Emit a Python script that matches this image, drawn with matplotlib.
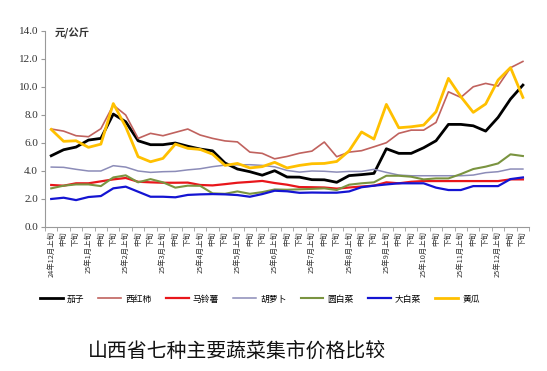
import matplotlib.pyplot as plt
import numpy as np

plt.rcParams['font.family'] = ['Noto Sans CJK SC', 'DejaVu Sans']

x_labels = ['24年12月上旬', '中旬', '下旬',
            '25年1月上旬', '中旬', '下旬', '25年2月上旬', '中旬', '下旬',
            '25年3月上旬', '中旬', '下旬', '25年4月上旬', '中旬', '下旬',
            '25年5月上旬', '中旬', '下旬', '25年6月上旬', '中旬', '下旬',
            '25年7月上旬', '中旬', '下旬', '25年8月上旬', '中旬', '下旬',
            '25年9月上旬', '中旬', '下旬', '25年10月上旬', '中旬', '下旬',
            '25年11月上旬', '中旬', '下旬', '25年12月上旬', '中旬', '下旬']

qiezi = [5.07, 5.5, 5.69, 6.19, 6.31, 8.05, 7.5, 6.14, 5.86, 5.86, 5.98, 5.75,
         5.55, 5.42, 4.55, 4.12, 3.93, 3.68, 4.0, 3.55, 3.54, 3.36, 3.35, 3.17, 3.65, 3.72, 3.81,
         5.57, 5.24, 5.24, 5.64, 6.14, 7.31, 7.31, 7.21, 6.83, 7.81, 9.12, 10.12]
xihongshi = [6.98, 6.83, 6.5, 6.43, 7.0, 8.69, 7.98, 6.31, 6.67, 6.5, 6.74, 6.98,
             6.55, 6.31, 6.13, 6.06, 5.33, 5.24, 4.85, 5.02, 5.25, 5.4, 6.05, 5.0, 5.33, 5.43, 5.71,
             6.0, 6.67, 6.9, 6.9, 7.45, 9.64, 9.24, 10.0, 10.24, 10.05, 11.36, 11.81]
malingshu = [2.98, 2.93, 3.1, 3.1, 3.24, 3.38, 3.48, 3.21, 3.17, 3.14, 3.14, 3.15,
             2.98, 2.95, 3.04, 3.14, 3.2, 3.27, 3.12, 3.0, 2.83, 2.82, 2.8, 2.72, 2.8, 2.87, 2.93,
             3.17, 3.1, 3.21, 3.26, 3.26, 3.26, 3.26, 3.26, 3.26, 3.26, 3.38, 3.38]
huluobo = [4.26, 4.24, 4.1, 3.98, 3.98, 4.36, 4.26, 3.98, 3.88, 3.93, 3.95, 4.06,
           4.14, 4.29, 4.4, 4.42, 4.43, 4.38, 4.28, 4.02, 3.9, 3.98, 3.96, 3.9, 3.95, 3.95, 4.1,
           3.88, 3.69, 3.64, 3.64, 3.64, 3.64, 3.64, 3.69, 3.86, 3.93, 4.12, 4.12]
yuanbaicai = [2.74, 2.93, 3.02, 3.02, 2.9, 3.52, 3.67, 3.17, 3.4, 3.17, 2.79, 2.93,
              2.92, 2.38, 2.35, 2.52, 2.35, 2.47, 2.66, 2.64, 2.67, 2.7, 2.74, 2.62, 3.0, 3.1, 3.17,
              3.64, 3.64, 3.57, 3.38, 3.45, 3.45, 3.76, 4.12, 4.29, 4.52, 5.17, 5.05]
dabaicai = [1.98, 2.07, 1.9, 2.12, 2.19, 2.74, 2.86, 2.5, 2.14, 2.14, 2.1, 2.27,
            2.31, 2.33, 2.31, 2.26, 2.14, 2.33, 2.57, 2.53, 2.42, 2.44, 2.43, 2.43, 2.52, 2.82, 2.93,
            3.02, 3.1, 3.1, 3.1, 2.79, 2.62, 2.62, 2.9, 2.9, 2.9, 3.4, 3.52]
huanggua = [6.95, 6.1, 6.14, 5.67, 5.9, 8.8, 7.14, 5.0, 4.64, 4.88, 5.9, 5.6,
            5.52, 5.18, 4.38, 4.52, 4.2, 4.29, 4.6, 4.2, 4.38, 4.5, 4.52, 4.66, 5.42, 6.77, 6.26,
            8.74, 7.07, 7.14, 7.26, 8.21, 10.6, 9.29, 8.17, 8.77, 10.48, 11.37, 9.24]

names = ['茄子', '西红柿', '马铃薯', '胡萝卜', '圆白菜', '大白菜', '黄瓜']
series = [qiezi, xihongshi, malingshu, huluobo, yuanbaicai, dabaicai, huanggua]
colors = ['#000000', '#c0625e', '#e8161b', '#8c8cb8', '#7a9440', '#1414d2', '#ffc000']
widths = [2.0, 1.2, 1.6, 1.1, 1.5, 1.6, 2.0]

fig = plt.figure(figsize=(5.47, 3.71), dpi=100)
ax = fig.add_axes([0.0823, 0.389, 0.885, 0.528])

x = np.arange(len(x_labels))
for vals, name, c, w in zip(series, names, colors, widths):
    ax.plot(x, vals, color=c, linewidth=w, label=name)

ax.set_xlim(-0.5, len(x_labels) - 0.5)
ax.set_ylim(0, 14)
ax.set_yticks(np.arange(0, 14.1, 2))
ax.set_yticklabels(['%.1f' % v for v in np.arange(0, 14.1, 2)],
                   family='Liberation Serif', fontsize=8, color='#333333')
ax.set_xticks(x)
ax.set_xticklabels(x_labels, rotation=90, fontsize=5.3, color='#333333')
ax.set_xticks(np.arange(-0.5, len(x_labels)), minor=True)
ax.tick_params(axis='x', which='major', length=0, pad=3)
ax.tick_params(axis='x', which='minor', length=3, color='#999999')
ax.tick_params(axis='y', length=3, color='#999999', pad=2)
for s in ['top', 'right']:
    ax.spines[s].set_visible(False)
for s in ['left', 'bottom']:
    ax.spines[s].set_color('#999999')
    ax.spines[s].set_linewidth(0.8)

ax.text(0.02, 0.985, '元/公斤', transform=ax.transAxes, fontsize=7.5,
        fontweight='bold', color='#333333', va='center', ha='left')

fig.legend(loc='center', bbox_to_anchor=(0.475, 0.194), ncol=7, frameon=False,
           fontsize=6.3, handlelength=2.6, columnspacing=1.6, handletextpad=0.5)

fig.text(0.433, 0.054, '山西省七种主要蔬菜集市价格比较', fontsize=14.3,
         ha='center', va='center', color='#111111')

fig.savefig('out.png', dpi=100)
